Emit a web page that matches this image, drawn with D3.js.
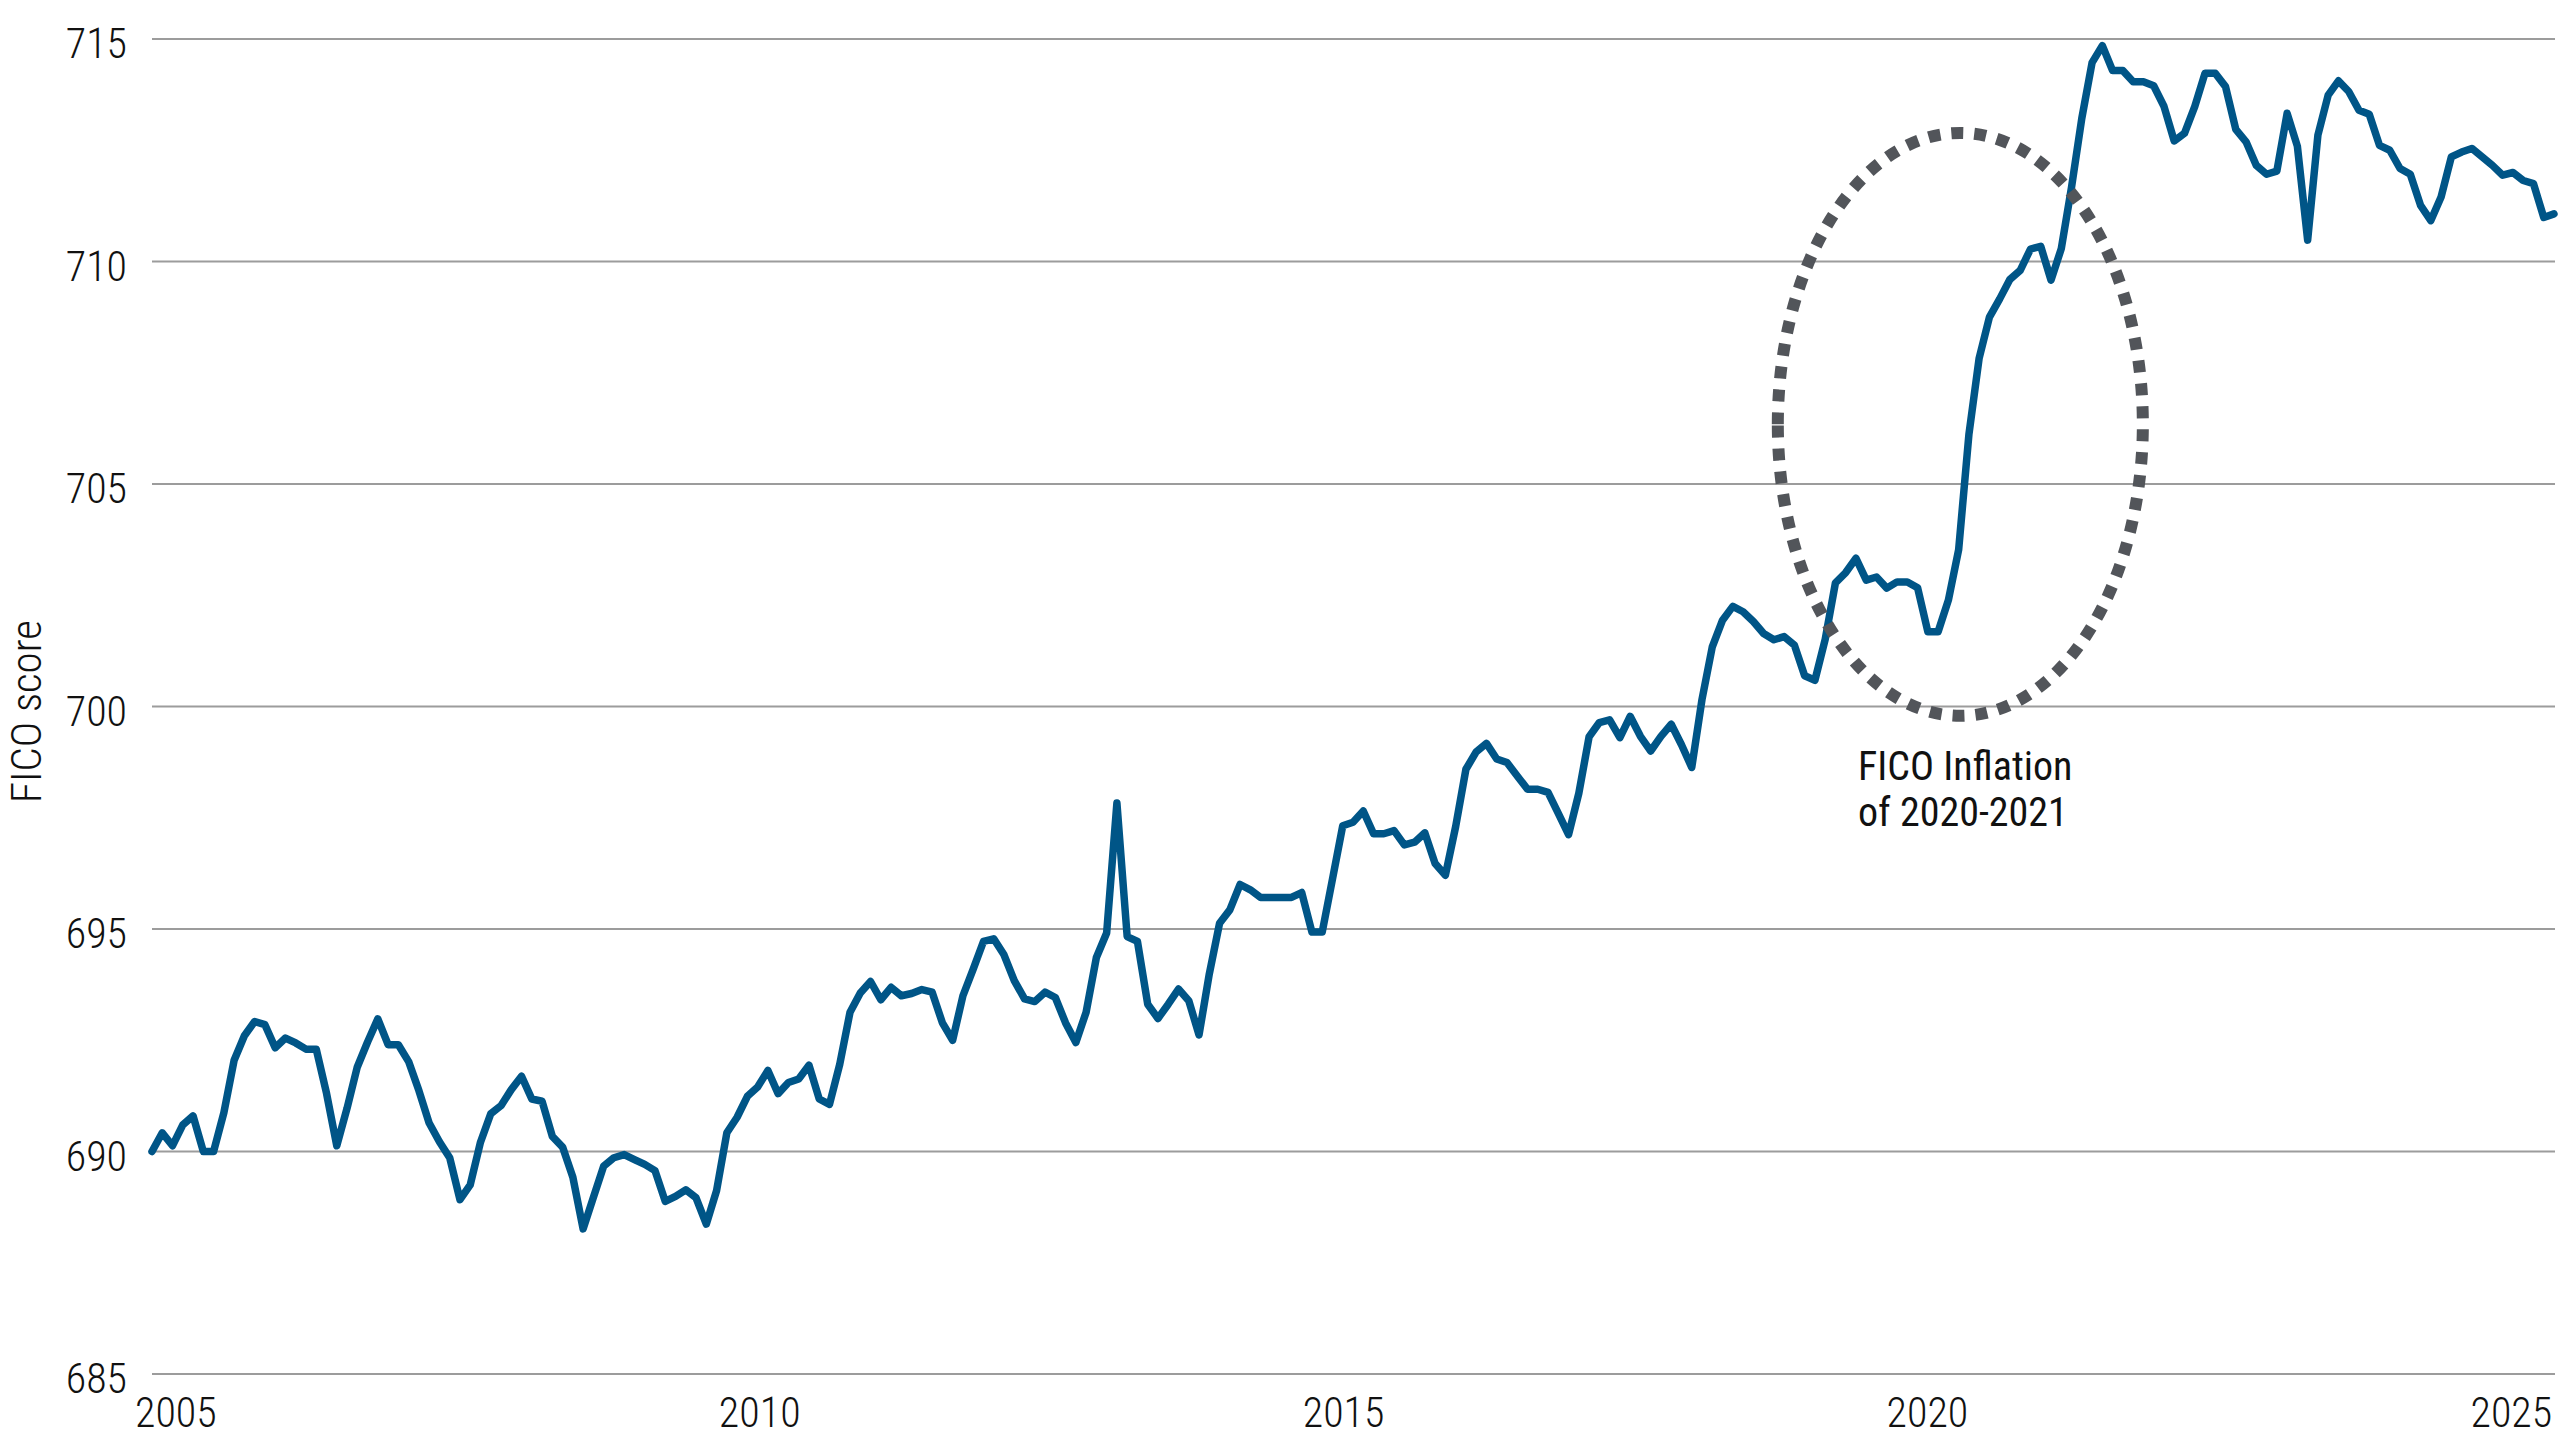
<!DOCTYPE html>
<html>
<head>
<meta charset="utf-8">
<script src="https://cdn.jsdelivr.net/npm/d3@7"></script>
<style>
  html, body { margin: 0; padding: 0; background: #fff; }
  svg text { font-family: "Roboto Condensed", "Liberation Sans Narrow", "DejaVu Sans Condensed", Roboto, sans-serif; font-stretch: condensed; fill: #111; }
</style>
</head>
<body>
<div id="chart"></div>
<script>
// average FICO score (2005 - 2025)
const scores2005 = [690.0, 690.42, 690.13, 690.6, 690.8, 690.0, 690.0, 690.87, 692.05, 692.6,
  692.92, 692.85, 692.33, 692.55, 692.44, 692.3, 692.3, 691.31, 690.13, 690.97,
  691.9, 692.46, 692.98, 692.4, 692.4, 692.02, 691.37, 690.64, 690.22, 689.86,
  688.92, 689.25, 690.21, 690.85, 691.03, 691.39, 691.69, 691.18, 691.13, 690.34,
  690.1, 689.42, 688.26, 688.97, 689.67, 689.86, 689.93, 689.82, 689.71, 689.57,
  688.88, 688.99, 689.14, 688.96, 688.37, 689.12, 690.42, 690.77, 691.24, 691.45];
const scores2010 = [691.82, 691.3, 691.55, 691.63, 691.94, 691.18, 691.06, 691.96, 693.13, 693.56,
  693.82, 693.41, 693.69, 693.5, 693.55, 693.64, 693.58, 692.89, 692.5, 693.5,
  694.1, 694.72, 694.78, 694.42, 693.84, 693.43, 693.37, 693.58, 693.46, 692.89,
  692.45, 693.13, 694.36, 694.91, 697.83, 694.83, 694.72, 693.31, 692.99, 693.31,
  693.65, 693.39, 692.62, 693.99, 695.13, 695.43, 696.0, 695.88, 695.71, 695.71,
  695.71, 695.71, 695.82, 694.93, 694.93, 696.12, 697.32, 697.4];
const scores2015 = [697.65, 697.14, 697.14, 697.21, 696.89, 696.95, 697.16, 696.47, 696.21, 697.3,
  698.59, 698.98, 699.17, 698.82, 698.74, 698.44, 698.14, 698.14, 698.07, 697.6,
  697.12, 698.05, 699.32, 699.64, 699.7, 699.3, 699.78, 699.33, 699.0, 699.33,
  699.6, 699.14, 698.63, 700.16, 701.34, 701.94, 702.25, 702.13, 701.91, 701.64,
  701.5, 701.57, 701.38, 700.69, 700.59, 701.51, 702.78, 703.01, 703.33, 702.84,
  702.91, 702.66, 702.8, 702.8, 702.67, 701.68, 701.68];
const scores2020 = [702.39, 703.52, 706.11, 707.83, 708.75, 709.16, 709.6, 709.8, 710.28, 710.34,
  709.58, 710.29, 711.67, 713.22, 714.47, 714.85, 714.29, 714.29, 714.04, 714.04,
  713.95, 713.49, 712.71, 712.88, 713.48, 714.23, 714.23, 713.93, 712.97, 712.69,
  712.16, 711.96, 712.03, 713.33, 712.59, 710.48, 712.84, 713.74, 714.06, 713.82,
  713.4, 713.31, 712.61, 712.5, 712.09, 711.96, 711.26, 710.92, 711.45, 712.35,
  712.46, 712.54, 712.35, 712.16, 711.94, 712.0, 711.82, 711.75, 710.99, 711.07];

const yTicks = [685, 690, 695, 700, 705, 710, 715];
const xTickYears = [2005, 2010, 2015, 2020, 2025];
const seriesSpan = [2004.8, 2025.37];   // first and last observation, decimal years
const yLabel = "FICO score";
const noteLines = ["FICO Inflation", "of 2020-2021"];

const width = 2560, height = 1440;
const margin = { top: 39, right: 6, bottom: 66, left: 152 };

const scores = scores2005.concat(scores2010, scores2015, scores2020);
const step = (seriesSpan[1] - seriesSpan[0]) / (scores.length - 1);
const data = scores.map((v, i) => ({ year: seriesSpan[0] + i * step, value: v }));

const x = d3.scaleLinear()
    .domain(seriesSpan)
    .range([margin.left, width - margin.right]);

const y = d3.scaleLinear()
    .domain([685, 715])
    .range([height - margin.bottom, margin.top]);

const svg = d3.select("#chart").append("svg")
    .attr("width", width)
    .attr("height", height);

// horizontal grid lines
svg.append("g")
    .attr("class", "grid")
    .selectAll("line")
    .data(yTicks)
    .enter().append("line")
        .attr("x1", margin.left)
        .attr("x2", width - 5)
        .attr("y1", d => y(d))
        .attr("y2", d => y(d))
        .style("stroke", "#9c9c9c")
        .style("stroke-width", 2);

// y axis labels
const yAxis = svg.append("g")
    .attr("transform", `translate(${margin.left}, 0)`)
    .call(d3.axisLeft(y).tickValues(yTicks).tickSize(0).tickPadding(25));
yAxis.select(".domain").remove();
yAxis.selectAll("text")
    .attr("dy", "0.45em")
    .style("font-size", "42px")
    .style("font-weight", 300);

// x axis labels
const xAxis = svg.append("g")
    .attr("transform", `translate(0, ${height - margin.bottom})`)
    .call(d3.axisBottom(x).tickValues(xTickYears).tickFormat(d3.format("d")).tickSize(0).tickPadding(23));
xAxis.select(".domain").remove();
xAxis.selectAll("text")
    .attr("dy", "0.71em")
    .style("font-size", "42px")
    .style("font-weight", 300);

svg.append("text")
    .attr("transform", `translate(41, ${(y(685) + y(715)) / 2 + 5}) rotate(-90)`)
    .style("text-anchor", "middle")
    .style("font-size", "43px")
    .style("font-weight", 300)
    .text(yLabel);

// the series
const line = d3.line()
    .x(d => x(d.year))
    .y(d => y(d.value));

svg.append("path")
    .datum(data)
    .attr("d", line)
    .style("fill", "none")
    .style("stroke", "#005587")
    .style("stroke-width", 7.5)
    .style("stroke-linejoin", "round")
    .style("stroke-linecap", "round");

// dotted ring round the 2020-2021 jump
const ring = { year: 2020.286, value: 706.34, rYears: 1.563, rScore: 6.55 };
const ecx = x(ring.year), ecy = y(ring.value);
const erx = x(ring.year + ring.rYears) - ecx, ery = y(ring.value - ring.rScore) - ecy;
svg.append("ellipse")
    .attr("cx", ecx)
    .attr("cy", ecy)
    .attr("rx", erx)
    .attr("ry", ery)
    .attr("transform", `rotate(180, ${ecx}, ${ecy})`)
    .style("fill", "none")
    .style("stroke", "#52555a")
    .style("stroke-width", 12)
    .style("stroke-dasharray", "12 11");

const note = svg.append("text")
    .attr("x", x(2019.41))
    .attr("y", y(698.35))
    .style("font-size", "40px")
    .style("font-weight", 400);
note.selectAll("tspan")
    .data(noteLines)
    .enter().append("tspan")
        .attr("x", x(2019.41))
        .attr("dy", (d, i) => i === 0 ? 0 : 46)
        .text(d => d);
</script>
</body>
</html>
